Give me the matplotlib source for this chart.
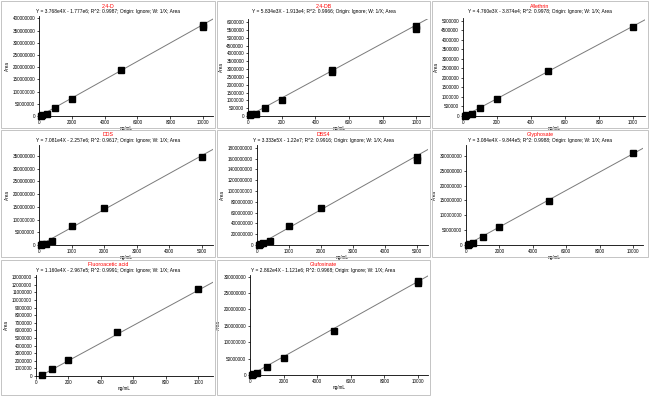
import matplotlib
matplotlib.use("Agg")
import matplotlib.pyplot as plt
from matplotlib.patches import Rectangle
from matplotlib.ticker import FuncFormatter

plt.rcParams["font.family"] = ["Liberation Sans", "DejaVu Sans"]

# compound names (red titles)
names = ["2,4-D", "2,4-DB", "Allethrin", "DDS", "DBS4", "Glyphosate",
         "Fluoroacetic acid", "Glufosinate"]

# calibration points (ng/mL, area)
d24_x = [100, 200, 500, 1000, 2000, 5000, 10000, 10000]
d24_y = [5e5, 3e6, 6.4e6, 3.3e7, 6.9e7, 1.87e8, 3.65e8, 3.74e8]
d24db_x = [10, 20, 50, 100, 200, 500, 500, 1000, 1000]
d24db_y = [4e4, 1e5, 1.5e5, 5e5, 1.05e6, 2.93e6, 2.82e6, 5.75e6, 5.58e6]
alle_x = [10, 20, 50, 100, 200, 500, 1000]
alle_y = [1e4, 4e4, 1e5, 4.3e5, 9e5, 2.37e6, 4.7e6]
dds_x = [50, 100, 200, 400, 1000, 2000, 5000]
dds_y = [5e5, 2e6, 5e6, 1.5e7, 7.3e7, 1.45e8, 3.45e8]
dbs_x = [50, 100, 200, 400, 1000, 2000, 5000, 5000]
dbs_y = [5e6, 1e7, 3e7, 7.5e7, 3.45e8, 6.9e8, 1.58e9, 1.62e9]
glyp_x = [100, 200, 400, 1000, 2000, 5000, 10000]
glyp_y = [5e5, 2.5e6, 7e6, 2.67e7, 6e7, 1.47e8, 3.1e8]
fluo_x = [40, 100, 200, 500, 1000]
fluo_y = [1.3e5, 9.7e5, 2.06e6, 5.76e6, 1.145e7]
gluf_x = [100, 200, 400, 1000, 2000, 5000, 10000, 10000]
gluf_y = [5e5, 3e6, 6e6, 2.4e7, 5.2e7, 1.35e8, 2.87e8, 2.8e8]

# regression results shown in the equation line
slopes = [3.768e4, 5.834e3, 4.760e3, 7.081e4, 3.333e5, 3.084e4, 1.160e4, 2.862e4]
intercepts = [-1.777e6, -1.913e4, -3.874e4, -2.257e6, -1.22e7, -9.844e5, -2.967e5, -1.121e6]
r2 = ["0.9987", "0.9966", "0.9978", "0.9617", "0.9916", "0.9988", "0.9991", "0.9968"]
slope_txt = ["3.768e4", "5.834e3", "4.760e3", "7.081e4", "3.333e5", "3.084e4", "1.160e4", "2.862e4"]
icpt_txt = ["1.777e6", "1.913e4", "3.874e4", "2.257e6", "1.22e7", "9.844e5", "2.967e5", "1.121e6"]

# axis ranges and ticks
xmax = [10600, 1082, 1070, 5340, 5340, 10600, 1090, 10600]
xstep = [2000, 200, 200, 1000, 1000, 2000, 200, 2000]
xtop = [10000, 1000, 1000, 5000, 5000, 10000, 1000, 10000]
ymax = [4.1e8, 6.2e6, 5.15e6, 3.93e8, 1.85e9, 3.37e8, 1.33e7, 3.05e8]
ystep = [5e7, 5e5, 5e5, 5e7, 2e8, 5e7, 1e6, 5e7]
ytop = [4e8, 6e6, 5e6, 3.5e8, 1.8e9, 3e8, 1.3e7, 3e8]

xs = [d24_x, d24db_x, alle_x, dds_x, dbs_x, glyp_x, fluo_x, gluf_x]
ys = [d24_y, d24db_y, alle_y, dds_y, dbs_y, glyp_y, fluo_y, gluf_y]

W, H = 650, 396
fig = plt.figure(figsize=(6.5, 3.96), dpi=100)

# panel frames (pixels: left, top, width, height)
frames = [(1, 1, 214, 127), (217, 1, 213, 127), (432, 1, 216, 127),
          (1, 130, 214, 127), (217, 130, 213, 127), (432, 130, 216, 127),
          (1, 260, 214, 135), (217, 260, 213, 135)]
# axes boxes (pixels: left, top, right, bottom)
boxes = [(39, 16, 213, 116), (248, 19, 430, 116), (463, 18, 645, 116),
         (39, 145, 213, 245), (257, 145, 428, 245), (466, 145, 643, 245),
         (36, 275, 213, 376), (250, 275, 428, 375)]

fmt = FuncFormatter(lambda v, p: "%d" % round(v))

for i in range(8):
    fl, ft, fw, fh = frames[i]
    fig.patches.append(Rectangle((fl / W, 1 - (ft + fh) / H), fw / W, fh / H,
                                 transform=fig.transFigure, fill=False,
                                 edgecolor="#c4c4c4", linewidth=0.7))
    l, t, r, b = boxes[i]
    ax = fig.add_axes([l / W, 1 - b / H, (r - l) / W, (b - t) / H])
    ax.set_xlim(0, xmax[i])
    ax.set_ylim(0, ymax[i])
    lx = [0, xmax[i]]
    ax.plot(lx, [slopes[i] * v + intercepts[i] for v in lx], color="#7a7a7a", lw=0.7)
    ax.plot(xs[i], ys[i], "s", color="black", ms=4.2, clip_on=False, zorder=3)

    ax.set_xticks(range(0, xtop[i] + 1, xstep[i]))
    yt = []
    v = 0.0
    while v <= ytop[i] * 1.0001:
        yt.append(v)
        v += ystep[i]
    ax.set_yticks(yt)
    ax.yaxis.set_major_formatter(fmt)
    ax.tick_params(labelsize=3.3, length=1.8, width=0.5, pad=1)
    for s in ["top", "right"]:
        ax.spines[s].set_visible(False)
    for s in ["left", "bottom"]:
        ax.spines[s].set_linewidth(0.6)
    ax.set_xlabel("ng/mL", fontsize=3.3, labelpad=0.8)
    ax.set_ylabel("Area", fontsize=3.3, labelpad=2)

    cx = (fl + fw / 2) / W
    fig.text(cx, 1 - (ft + 5) / H, names[i], color="red", fontsize=3.8,
             ha="center", va="center")
    eq = "Y = %sX - %s; R^2: %s; Origin: Ignore; W: 1/X; Area" % (
        slope_txt[i], icpt_txt[i], r2[i])
    fig.text(cx, 1 - (ft + 10.5) / H, eq, color="black", fontsize=3.5,
             ha="center", va="center")

fig.savefig("out.png", dpi=100)
